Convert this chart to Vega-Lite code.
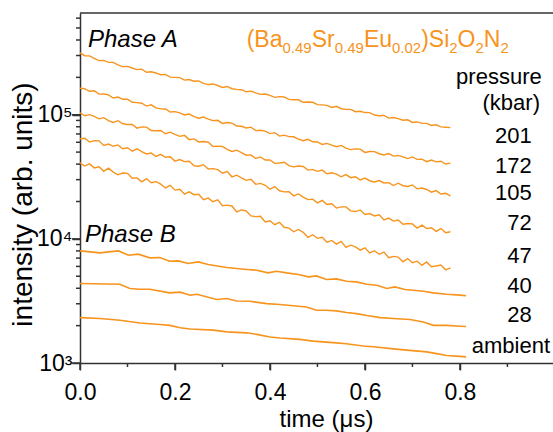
{
  "$schema": "https://vega.github.io/schema/vega-lite/v6.json",
  "width": 473,
  "height": 350,
  "autosize": {"type": "none"},
  "padding": {"left": 80, "top": 13, "right": 0, "bottom": 69},
  "background": "white",
  "config": {
    "view": {"stroke": null},
    "font": "Liberation Sans",
    "text": {"font": "Liberation Sans"}
  },
  "datasets": {
    "a": [
      {"t":0.00,"p201":315000,"p172":163300,"p105":103800,"p72":64000,"p47":41000},
      {"t":0.01,"p201":299000,"p172":162100,"p105":98100,"p72":64700,"p47":38600},
      {"t":0.02,"p201":298000,"p172":154600,"p105":100200,"p72":60200,"p47":40200},
      {"t":0.03,"p201":284000,"p172":155900,"p105":97000,"p72":61800,"p47":37300},
      {"t":0.04,"p201":273000,"p172":146500,"p105":92700,"p72":61600,"p47":38100},
      {"t":0.05,"p201":274000,"p172":146900,"p105":94700,"p72":56500,"p47":35000},
      {"t":0.06,"p201":264000,"p172":144400,"p105":89500,"p72":58000,"p47":37100},
      {"t":0.07,"p201":264000,"p172":136400,"p105":86600,"p72":55700,"p47":34500},
      {"t":0.08,"p201":252000,"p172":138900,"p105":89500,"p72":57100,"p47":32800},
      {"t":0.09,"p201":244000,"p172":133100,"p105":84600,"p72":53200,"p47":33900},
      {"t":0.10,"p201":245000,"p172":133500,"p105":83400,"p72":54200,"p47":33700},
      {"t":0.11,"p201":238000,"p172":126100,"p105":83400,"p72":50800,"p47":30800},
      {"t":0.12,"p201":231000,"p172":125200,"p105":78000,"p72":53200,"p47":31000},
      {"t":0.13,"p201":233000,"p172":123700,"p105":79800,"p72":50400,"p47":28800},
      {"t":0.14,"p201":220000,"p172":117400,"p105":79400,"p72":48300,"p47":30600},
      {"t":0.15,"p201":222000,"p172":120100,"p105":74700,"p72":49100,"p47":28300},
      {"t":0.16,"p201":217000,"p172":113500,"p105":74300,"p72":46100,"p47":28900},
      {"t":0.17,"p201":210000,"p172":111500,"p105":74700,"p72":48000,"p47":27600},
      {"t":0.18,"p201":211000,"p172":111200,"p105":70300,"p72":45400,"p47":25700},
      {"t":0.19,"p201":201000,"p172":105100,"p105":72400,"p72":45800,"p47":27000},
      {"t":0.20,"p201":200000,"p172":105900,"p105":69500,"p72":42300,"p47":24700},
      {"t":0.21,"p201":199000,"p172":103500,"p105":67000,"p72":43500,"p47":25100},
      {"t":0.22,"p201":190000,"p172":99600,"p105":68200,"p72":41900,"p47":22900},
      {"t":0.23,"p201":192000,"p172":101300,"p105":63000,"p72":42200,"p47":23900},
      {"t":0.24,"p201":186000,"p172":96500,"p105":63900,"p72":38800,"p47":22700},
      {"t":0.25,"p201":187000,"p172":93800,"p105":60400,"p72":38500,"p47":22900},
      {"t":0.26,"p201":179000,"p172":95800,"p105":60800,"p72":39600,"p47":20700},
      {"t":0.27,"p201":175000,"p172":92200,"p105":60000,"p72":36500,"p47":21300},
      {"t":0.28,"p201":177000,"p172":89600,"p105":55500,"p72":36800,"p47":19900},
      {"t":0.29,"p201":172000,"p172":90200,"p105":55900,"p72":36100,"p47":20600},
      {"t":0.30,"p201":166000,"p172":85100,"p105":55500,"p72":33800,"p47":18500},
      {"t":0.31,"p201":169000,"p172":86500,"p105":52600,"p72":34800,"p47":18700},
      {"t":0.32,"p201":162000,"p172":85600,"p105":50600,"p72":31600,"p47":18400},
      {"t":0.33,"p201":160000,"p172":81100,"p105":51800,"p72":32600,"p47":16500},
      {"t":0.34,"p201":159000,"p172":80700,"p105":49600,"p72":31000,"p47":17100},
      {"t":0.35,"p201":153000,"p172":78300,"p105":47200,"p72":29600,"p47":16800},
      {"t":0.36,"p201":155000,"p172":79400,"p105":47500,"p72":30200,"p47":15300},
      {"t":0.37,"p201":150000,"p172":74500,"p105":44400,"p72":27500,"p47":15100},
      {"t":0.38,"p201":146000,"p172":74900,"p105":45700,"p72":28000,"p47":15200},
      {"t":0.39,"p201":147000,"p172":73800,"p105":43200,"p72":27000,"p47":13700},
      {"t":0.40,"p201":143000,"p172":70500,"p105":43200,"p72":25100,"p47":14000},
      {"t":0.41,"p201":138000,"p172":71700,"p105":40600,"p72":26400,"p47":13000},
      {"t":0.42,"p201":140000,"p172":67300,"p105":40900,"p72":24400,"p47":13600},
      {"t":0.43,"p201":139000,"p172":68500,"p105":41400,"p72":23900,"p47":12400},
      {"t":0.44,"p201":133000,"p172":66600,"p105":38900,"p72":24000,"p47":12200},
      {"t":0.45,"p201":132000,"p172":66400,"p105":38000,"p72":22200,"p47":11400},
      {"t":0.46,"p201":132000,"p172":63600,"p105":38600,"p72":23000,"p47":11900},
      {"t":0.47,"p201":126000,"p172":61700,"p105":38300,"p72":21700,"p47":11300},
      {"t":0.48,"p201":126500,"p172":63400,"p105":35800,"p72":20700,"p47":10300},
      {"t":0.49,"p201":126000,"p172":60500,"p105":36300,"p72":20900,"p47":10800},
      {"t":0.50,"p201":120500,"p172":60300,"p105":35000,"p72":19500,"p47":10100},
      {"t":0.51,"p201":120000,"p172":57600,"p105":35800,"p72":20400,"p47":10300},
      {"t":0.52,"p201":119000,"p172":58800,"p105":33500,"p72":18900,"p47":9400},
      {"t":0.53,"p201":114400,"p172":57000,"p105":34100,"p72":19200,"p47":9710},
      {"t":0.54,"p201":116800,"p172":55300,"p105":33200,"p72":17700,"p47":9080},
      {"t":0.55,"p201":111800,"p172":56600,"p105":31600,"p72":18100,"p47":9540},
      {"t":0.56,"p201":110500,"p172":53800,"p105":32900,"p72":18100,"p47":8530},
      {"t":0.57,"p201":110500,"p172":52400,"p105":31100,"p72":16800,"p47":8890},
      {"t":0.58,"p201":105800,"p172":53100,"p105":31600,"p72":16600,"p47":8620},
      {"t":0.59,"p201":106600,"p172":52800,"p105":29800,"p72":17100,"p47":8120},
      {"t":0.60,"p201":104100,"p172":49700,"p105":30900,"p72":15700,"p47":8460},
      {"t":0.61,"p201":104000,"p172":50600,"p105":29400,"p72":16000,"p47":7700},
      {"t":0.62,"p201":99500,"p172":50400,"p105":28700,"p72":15300,"p47":8030},
      {"t":0.63,"p201":98200,"p172":48500,"p105":29500,"p72":15600,"p47":7510},
      {"t":0.64,"p201":98600,"p172":47400,"p105":28200,"p72":14200,"p47":7820},
      {"t":0.65,"p201":93900,"p172":48700,"p105":28400,"p72":14700,"p47":7060},
      {"t":0.66,"p201":95000,"p172":46400,"p105":26900,"p72":13900,"p47":7220},
      {"t":0.67,"p201":93000,"p172":47000,"p105":28100,"p72":14200,"p47":7130},
      {"t":0.68,"p201":90400,"p172":45800,"p105":26800,"p72":13100,"p47":6540},
      {"t":0.69,"p201":91000,"p172":44300,"p105":26400,"p72":13300,"p47":6940},
      {"t":0.70,"p201":86700,"p172":45700,"p105":27200,"p72":13200,"p47":6430},
      {"t":0.71,"p201":87500,"p172":43700,"p105":25300,"p72":12200,"p47":6610},
      {"t":0.72,"p201":85200,"p172":43900,"p105":25700,"p72":12900,"p47":6110},
      {"t":0.73,"p201":85200,"p172":41900,"p105":25000,"p72":12100,"p47":6520},
      {"t":0.74,"p201":81900,"p172":43100,"p105":23800,"p72":12300,"p47":5970},
      {"t":0.75,"p201":83000,"p172":41700,"p105":24500,"p72":11500,"p47":6040},
      {"t":0.76,"p201":79900,"p172":42200,"p105":23000,"p72":12100,"p47":6150},
      {"t":0.77,"p201":79300,"p172":40100,"p105":23300,"p72":11200,"p47":5630},
      {"t":0.78,"p201":78700,"p172":40800,"p105":22200,"p72":11400,"p47":5850}
    ],
    "b": [
      {"s":"40","t":0,"v":8000},{"s":"40","t":0.042,"v":7710},{"s":"40","t":0.06,"v":7860},{"s":"40","t":0.081,"v":8000},
      {"s":"40","t":0.102,"v":7390},{"s":"40","t":0.123,"v":7530},{"s":"40","t":0.147,"v":7030},{"s":"40","t":0.168,"v":7080},
      {"s":"40","t":0.189,"v":6610},{"s":"40","t":0.207,"v":6650},{"s":"40","t":0.228,"v":6330},{"s":"40","t":0.249,"v":6520},
      {"s":"40","t":0.27,"v":6220},{"s":"40","t":0.309,"v":5880},{"s":"40","t":0.351,"v":5670},{"s":"40","t":0.372,"v":5590},
      {"s":"40","t":0.396,"v":5320},{"s":"40","t":0.414,"v":5490},{"s":"40","t":0.435,"v":5320},{"s":"40","t":0.46,"v":5160},
      {"s":"40","t":0.481,"v":4940},{"s":"40","t":0.498,"v":5030},{"s":"40","t":0.519,"v":4710},{"s":"40","t":0.54,"v":4760},
      {"s":"40","t":0.561,"v":4560},{"s":"40","t":0.582,"v":4500},{"s":"40","t":0.604,"v":4310},{"s":"40","t":0.625,"v":4230},
      {"s":"40","t":0.646,"v":3980},{"s":"40","t":0.663,"v":4100},{"s":"40","t":0.684,"v":3910},{"s":"40","t":0.702,"v":3860},
      {"s":"40","t":0.723,"v":3790},{"s":"40","t":0.744,"v":3670},{"s":"40","t":0.772,"v":3580},{"s":"40","t":0.8,"v":3520},
      {"s":"40","t":0.813,"v":3480},
      {"s":"28","t":0,"v":4370},{"s":"28","t":0.084,"v":4310},{"s":"28","t":0.105,"v":3980},{"s":"28","t":0.126,"v":3930},
      {"s":"28","t":0.147,"v":3930},{"s":"28","t":0.189,"v":3670},{"s":"28","t":0.211,"v":3720},{"s":"28","t":0.232,"v":3520},
      {"s":"28","t":0.246,"v":3580},{"s":"28","t":0.288,"v":3250},{"s":"28","t":0.309,"v":3310},{"s":"28","t":0.33,"v":3160},
      {"s":"28","t":0.358,"v":3140},{"s":"28","t":0.393,"v":3010},{"s":"28","t":0.421,"v":2960},{"s":"28","t":0.477,"v":2830},
      {"s":"28","t":0.498,"v":2660},{"s":"28","t":0.519,"v":2660},{"s":"28","t":0.54,"v":2630},{"s":"28","t":0.561,"v":2550},
      {"s":"28","t":0.582,"v":2500},{"s":"28","t":0.604,"v":2410},{"s":"28","t":0.632,"v":2320},{"s":"28","t":0.66,"v":2280},
      {"s":"28","t":0.695,"v":2240},{"s":"28","t":0.723,"v":2140},{"s":"28","t":0.744,"v":2010},{"s":"28","t":0.772,"v":2010},
      {"s":"28","t":0.8,"v":1980},{"s":"28","t":0.813,"v":1970},
      {"s":"amb","t":0,"v":2320},{"s":"amb","t":0.042,"v":2280},{"s":"amb","t":0.084,"v":2210},{"s":"amb","t":0.126,"v":2100},
      {"s":"amb","t":0.168,"v":2040},{"s":"amb","t":0.189,"v":2010},{"s":"amb","t":0.211,"v":1920},{"s":"amb","t":0.232,"v":1880},
      {"s":"amb","t":0.281,"v":1840},{"s":"amb","t":0.309,"v":1780},{"s":"amb","t":0.351,"v":1750},{"s":"amb","t":0.372,"v":1700},
      {"s":"amb","t":0.4,"v":1620},{"s":"amb","t":0.421,"v":1590},{"s":"amb","t":0.463,"v":1550},{"s":"amb","t":0.491,"v":1500},
      {"s":"amb","t":0.533,"v":1460},{"s":"amb","t":0.561,"v":1430},{"s":"amb","t":0.596,"v":1370},{"s":"amb","t":0.618,"v":1350},
      {"s":"amb","t":0.66,"v":1300},{"s":"amb","t":0.688,"v":1270},{"s":"amb","t":0.73,"v":1230},{"s":"amb","t":0.751,"v":1190},
      {"s":"amb","t":0.772,"v":1150},{"s":"amb","t":0.8,"v":1130},{"s":"amb","t":0.813,"v":1120}
    ],
    "phase": [
      {"t":0.0168,"v":353000,"txt":"Phase A"},
      {"t":0.0105,"v":9460,"txt":"Phase B"}
    ],
    "right": [
      {"t":0.9722,"v":177800,"txt":"pressure"},
      {"t":0.9686,"v":108300,"txt":"(kbar)"},
      {"t":0.9511,"v":58800,"txt":"201"},
      {"t":0.9511,"v":33870,"txt":"172"},
      {"t":0.9511,"v":20520,"txt":"105"},
      {"t":0.9511,"v":11760,"txt":"72"},
      {"t":0.9511,"v":6370,"txt":"47"},
      {"t":0.9511,"v":3650,"txt":"40"},
      {"t":0.9511,"v":2140,"txt":"28"},
      {"t":0.9897,"v":1200,"txt":"ambient"}
    ],
    "formula": [
      {"k":"m","t":0.3510,"v":353000,"txt":"(Ba"},
      {"k":"s","t":0.4264,"v":316000,"txt":"0.49"},
      {"k":"m","t":0.4879,"v":353000,"txt":"Sr"},
      {"k":"s","t":0.5363,"v":316000,"txt":"0.49"},
      {"k":"m","t":0.5978,"v":353000,"txt":"Eu"},
      {"k":"s","t":0.6570,"v":316000,"txt":"0.02"},
      {"k":"m","t":0.7185,"v":353000,"txt":")Si"},
      {"k":"s","t":0.7776,"v":316000,"txt":"2"},
      {"k":"m","t":0.7951,"v":353000,"txt":"O"},
      {"k":"s","t":0.8328,"v":316000,"txt":"2"},
      {"k":"m","t":0.8503,"v":353000,"txt":"N"},
      {"k":"s","t":0.8853,"v":316000,"txt":"2"}
    ],
    "xticks": [
      {"t":0,"major":true},{"t":0.1,"major":false},{"t":0.2,"major":true},{"t":0.3,"major":false},{"t":0.4,"major":true},
      {"t":0.5,"major":false},{"t":0.6,"major":true},{"t":0.7,"major":false},{"t":0.8,"major":true},{"t":0.9,"major":false}
    ],
    "yticks": [
      {"v":1000,"major":true},{"v":2000,"major":false},{"v":3000,"major":false},{"v":4000,"major":false},{"v":5000,"major":false},
      {"v":6000,"major":false},{"v":7000,"major":false},{"v":8000,"major":false},{"v":9000,"major":false},
      {"v":10000,"major":true},{"v":20000,"major":false},{"v":30000,"major":false},{"v":40000,"major":false},{"v":50000,"major":false},
      {"v":60000,"major":false},{"v":70000,"major":false},{"v":80000,"major":false},{"v":90000,"major":false},
      {"v":100000,"major":true},{"v":200000,"major":false},{"v":300000,"major":false},{"v":400000,"major":false},{"v":500000,"major":false},
      {"v":600000,"major":false}
    ],
    "frame": [{"edge":"top"}]
  },
  "layer": [
    {
      "data": {"name": "a"},
      "transform": [{"fold": ["p201","p172","p105","p72","p47"], "as": ["series","v"]}],
      "mark": {"type": "line", "color": "#f7941d", "strokeWidth": 1.4, "clip": true},
      "encoding": {
        "x": {"field": "t", "type": "quantitative",
          "scale": {"domain": [0, 0.996], "nice": false, "zero": false},
          "axis": {
            "orient": "bottom",
            "values": [0,0.2,0.4,0.6,0.8],
            "format": ".1f",
            "tickSize": 7, "ticks": true,
            "labelFontSize": 23, "labelPadding": 11, "labelColor": "black", "labelFont": "Liberation Sans",
            "labelOverlap": false, "labelFlush": false,
            "domainColor": "#333333", "domainWidth": 1.5, "tickColor": "#333333", "tickWidth": 1.5,
            "grid": false,
            "title": "time (μs)", "titleFontSize": 24, "titleFontWeight": "normal", "titleColor": "black",
            "titleFont": "Liberation Sans", "titleBaseline": "alphabetic", "titleY": 63, "titleX": 246, "titleAlign": "center"
          }
        },
        "y": {"field": "v", "type": "quantitative",
          "scale": {"type": "log", "domain": [1000, 660000], "nice": false},
          "axis": {
            "orient": "left",
            "values": [1000,10000,100000],
            "labelExpr": "datum.value == 1000 ? '10³' : datum.value == 10000 ? '10⁴' : '10⁵'",
            "tickSize": 8, "ticks": true,
            "labelFontSize": 23, "labelPadding": 0, "labelColor": "black", "labelFont": "Liberation Sans",
            "labelOverlap": false, "labelFlush": false, "labelBaseline": "middle",
            "domainColor": "#333333", "domainWidth": 1.5, "tickColor": "#333333", "tickWidth": 1.5,
            "grid": false,
            "title": "intensity (arb. units)", "titleFontSize": 28, "titleFontWeight": "normal", "titleColor": "black",
            "titleFont": "Liberation Sans", "titleAngle": -90, "titleX": -57, "titleY": 191, "titleAlign": "center", "titleBaseline": "middle"
          }
        },
        "detail": {"field": "series"}
      }
    },
    {
      "data": {"name": "b"},
      "mark": {"type": "line", "color": "#f7941d", "strokeWidth": 1.6, "clip": true},
      "encoding": {
        "x": {"field": "t", "type": "quantitative"},
        "y": {"field": "v", "type": "quantitative"},
        "detail": {"field": "s"}
      }
    },
    {
      "data": {"name": "xticks"},
      "transform": [{"filter": "datum.major"}],
      "mark": {"type": "point", "shape": "M0,0L0,2", "size": 49, "filled": false, "color": "#333333", "strokeWidth": 1.5, "opacity": 1},
      "encoding": {
        "x": {"field": "t", "type": "quantitative"},
        "y": {"datum": 1000, "type": "quantitative"}
      }
    },
    {
      "data": {"name": "xticks"},
      "transform": [{"filter": "!datum.major"}],
      "mark": {"type": "point", "shape": "M0,0L0,2", "size": 16, "filled": false, "color": "#333333", "strokeWidth": 1.5, "opacity": 1},
      "encoding": {
        "x": {"field": "t", "type": "quantitative"},
        "y": {"datum": 1000, "type": "quantitative"}
      }
    },
    {
      "data": {"name": "yticks"},
      "transform": [{"filter": "datum.major"}],
      "mark": {"type": "point", "shape": "M0,0L-2,0", "size": 64, "filled": false, "color": "#333333", "strokeWidth": 1.5, "opacity": 1},
      "encoding": {
        "y": {"field": "v", "type": "quantitative"},
        "x": {"datum": 0, "type": "quantitative"}
      }
    },
    {
      "data": {"name": "yticks"},
      "transform": [{"filter": "!datum.major"}],
      "mark": {"type": "point", "shape": "M0,0L-2,0", "size": 16, "filled": false, "color": "#333333", "strokeWidth": 1.5, "opacity": 1},
      "encoding": {
        "y": {"field": "v", "type": "quantitative"},
        "x": {"datum": 0, "type": "quantitative"}
      }
    },
    {
      "data": {"name": "frame"},
      "mark": {"type": "point", "shape": "M0,0L2,0", "size": 223729, "filled": false, "color": "#333333", "strokeWidth": 1.5, "opacity": 1},
      "encoding": {
        "x": {"datum": 0, "type": "quantitative"},
        "y": {"datum": 660000, "type": "quantitative"}
      }
    },
    {
      "data": {"name": "phase"},
      "mark": {"type": "text", "align": "left", "baseline": "alphabetic", "fontSize": 24, "fontStyle": "italic", "color": "black", "font": "Liberation Sans"},
      "encoding": {
        "x": {"field": "t", "type": "quantitative"},
        "y": {"field": "v", "type": "quantitative"},
        "text": {"field": "txt"}
      }
    },
    {
      "data": {"name": "right"},
      "mark": {"type": "text", "align": "right", "baseline": "alphabetic", "fontSize": 22, "color": "black", "font": "Liberation Sans"},
      "encoding": {
        "x": {"field": "t", "type": "quantitative"},
        "y": {"field": "v", "type": "quantitative"},
        "text": {"field": "txt"}
      }
    },
    {
      "data": {"name": "formula"},
      "transform": [{"filter": "datum.k == 'm'"}],
      "mark": {"type": "text", "align": "left", "baseline": "alphabetic", "fontSize": 23, "color": "#f7941d", "font": "Liberation Sans"},
      "encoding": {
        "x": {"field": "t", "type": "quantitative"},
        "y": {"field": "v", "type": "quantitative"},
        "text": {"field": "txt"}
      }
    },
    {
      "data": {"name": "formula"},
      "transform": [{"filter": "datum.k == 's'"}],
      "mark": {"type": "text", "align": "left", "baseline": "alphabetic", "fontSize": 15, "color": "#f7941d", "font": "Liberation Sans"},
      "encoding": {
        "x": {"field": "t", "type": "quantitative"},
        "y": {"field": "v", "type": "quantitative"},
        "text": {"field": "txt"}
      }
    }
  ]
}
